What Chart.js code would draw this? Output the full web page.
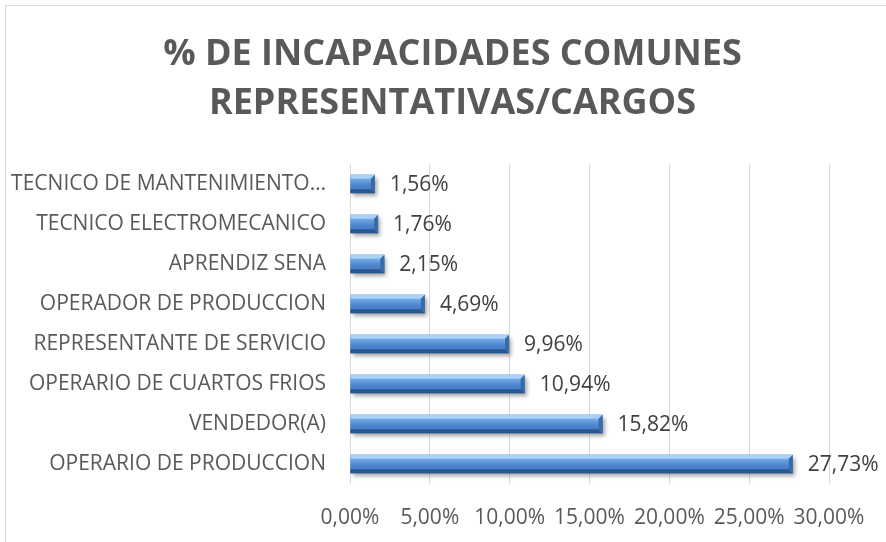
<!DOCTYPE html>
<html>
<head>
<meta charset="utf-8">
<script src="https://cdn.jsdelivr.net/npm/chart.js@4/dist/chart.umd.min.js"></script>
<style>
  html, body { margin: 0; padding: 0; background: #fff; }
  #wrap { width: 886px; height: 542px; position: relative; }
</style>
</head>
<body>
<div id="wrap"><canvas id="chart" width="886" height="542"></canvas></div>
<script>
// categories, top to bottom as shown
const cargos = [
    "TECNICO DE MANTENIMIENTO…",
    "TECNICO ELECTROMECANICO",
    "APRENDIZ SENA",
    "OPERADOR DE PRODUCCION",
    "REPRESENTANTE DE SERVICIO",
    "OPERARIO DE CUARTOS FRIOS",
    "VENDEDOR(A)",
    "OPERARIO DE PRODUCCION"
];
const porcentajes = [1.56, 1.76, 2.15, 4.69, 9.96, 10.94, 15.82, 27.73];
const xTicks = [0, 5, 10, 15, 20, 25, 30];

const FONT = "'Open Sans', sans-serif";
const TXT = "#595959";

function fmt(v, dec) {
    return v.toFixed(dec).replace(".", ",") + "%";
}

const framePlugin = {
    id: "frame",
    beforeDraw(chart) {
        const ctx = chart.ctx;
        ctx.save();
        ctx.fillStyle = "#fff";
        ctx.fillRect(0, 0, chart.width, chart.height);
        ctx.strokeStyle = "#d9d9d9";
        ctx.lineWidth = 1;
        ctx.strokeRect(5.5, 5.5, chart.width + 10, chart.height + 10);
        ctx.restore();
    },
    // the title is centred on the whole frame, not only on the left part
    afterLayout(chart) {
        const t = chart.titleBlock;
        if (t) { t.left += 38; t.right += 38; }
    }
};

// soft shadow under bars, then bevel faces on top of each bar
const bevelPlugin = {
    id: "bevel",
    beforeDatasetsDraw(chart) {
        const ctx = chart.ctx;
        ctx.save();
        ctx.shadowColor = "rgba(0,0,0,0.35)";
        ctx.shadowBlur = 4;
        ctx.shadowOffsetX = 2;
        ctx.shadowOffsetY = 3;
    },
    afterDatasetsDraw(chart) {
        const ctx = chart.ctx;
        ctx.restore();
        const meta = chart.getDatasetMeta(0);
        const b = 4;
        meta.data.forEach(bar => {
            const l = bar.base, r = bar.x;
            const t = bar.y - bar.height / 2, btm = bar.y + bar.height / 2;
            // face
            const g = ctx.createLinearGradient(0, t, 0, btm);
            g.addColorStop(0, "#9cc6f2");
            g.addColorStop(0.25, "#72a8e6");
            g.addColorStop(0.55, "#4f87cf");
            g.addColorStop(1, "#3f73b8");
            ctx.fillStyle = g;
            ctx.fillRect(l, t, r - l, btm - t);
            // top edge
            ctx.fillStyle = "#a9d0f7";
            ctx.beginPath();
            ctx.moveTo(l, t); ctx.lineTo(r, t); ctx.lineTo(r - b, t + b); ctx.lineTo(l, t + b);
            ctx.closePath(); ctx.fill();
            // bottom edge
            ctx.fillStyle = "#2b5790";
            ctx.beginPath();
            ctx.moveTo(l, btm); ctx.lineTo(r, btm); ctx.lineTo(r - b, btm - b); ctx.lineTo(l, btm - b);
            ctx.closePath(); ctx.fill();
            // right end
            ctx.fillStyle = "#3a6aa8";
            ctx.beginPath();
            ctx.moveTo(r, t); ctx.lineTo(r, btm); ctx.lineTo(r - b, btm - b); ctx.lineTo(r - b, t + b);
            ctx.closePath(); ctx.fill();
        });
    }
};

const labelPlugin = {
    id: "valueLabels",
    afterDatasetsDraw(chart) {
        const ctx = chart.ctx;
        const meta = chart.getDatasetMeta(0);
        ctx.save();
        ctx.font = "21px " + FONT;
        ctx.fillStyle = "#404040";
        ctx.textAlign = "left";
        ctx.textBaseline = "middle";
        meta.data.forEach((bar, i) => {
            ctx.fillText(fmt(porcentajes[i], 2), bar.x + 15, bar.y + 1);
        });
        ctx.restore();
    }
};

new Chart(document.getElementById("chart"), {
    type: "bar",
    data: {
        labels: cargos,
        datasets: [{
            data: porcentajes,
            backgroundColor: "#4a80c6",
            borderWidth: 0,
            barPercentage: 0.46,
            categoryPercentage: 1
        }]
    },
    options: {
        indexAxis: "y",
        responsive: false,
        animation: false,
        layout: { padding: { left: 0, right: 57, top: 0, bottom: 12 } },
        plugins: {
            legend: { display: false },
            tooltip: { enabled: false },
            title: {
                display: true,
                text: ["% DE INCAPACIDADES COMUNES", "REPRESENTATIVAS/CARGOS"],
                color: TXT,
                font: { family: FONT, size: 36, weight: "bold", lineHeight: 1.36 },
                padding: { top: 30, bottom: 36 }
            }
        },
        scales: {
            x: {
                min: 0,
                max: 30,
                afterBuildTicks(scale) {
                    scale.ticks = xTicks.map(v => ({ value: v }));
                },
                afterFit(scale) { scale.height = 46; },
                ticks: {
                    color: TXT,
                    font: { family: FONT, size: 21 },
                    padding: 21,
                    maxRotation: 0,
                    minRotation: 0,
                    callback: v => fmt(v, 2)
                },
                grid: { color: "#d9d9d9", lineWidth: 1, drawTicks: false },
                border: { display: false }
            },
            y: {
                afterFit(scale) { scale.width = 350; },
                ticks: {
                    color: TXT,
                    font: { family: FONT, size: 21 },
                    padding: 24
                },
                grid: { display: false, drawTicks: false },
                border: { display: false }
            }
        }
    },
    plugins: [framePlugin, bevelPlugin, labelPlugin]
});
</script>
</body>
</html>
